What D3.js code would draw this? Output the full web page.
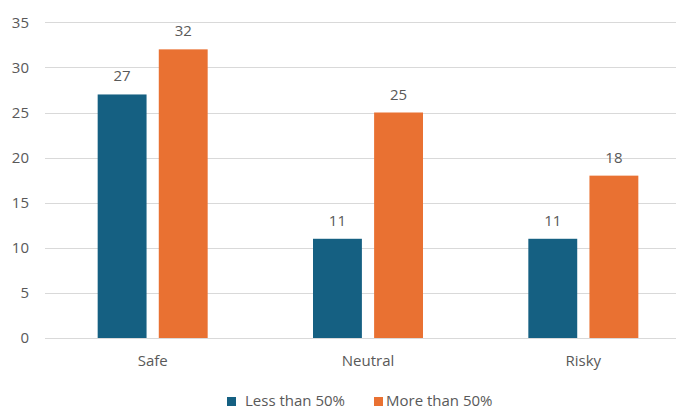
<!DOCTYPE html>
<html>
<head>
<meta charset="utf-8">
<script src="https://cdn.jsdelivr.net/npm/d3@7"></script>
<style>
  html, body { margin: 0; padding: 0; background: #fff; }
  svg { display: block; font-family: "Open Sans", "Noto Sans", sans-serif; }
</style>
</head>
<body>
<svg id="chart" width="676" height="408"></svg>
<script>
// Chart data
const categories = ["Safe", "Neutral", "Risky"];
const seriesNames = ["Less than 50%", "More than 50%"];
const lessThan50 = [27, 11, 11];
const moreThan50 = [32, 25, 18];
const yTicks = [0, 5, 10, 15, 20, 25, 30, 35];
const seriesColors = ["#156082", "#E97132"];

const seriesValues = [lessThan50, moreThan50];
const rows = categories.map((c, i) => ({
  category: c,
  values: seriesNames.map((s, j) => ({ series: s, idx: j, value: seriesValues[j][i] }))
}));

const svg = d3.select("#chart");
const textColor = "#595959";
const fontSize = 15;

const x0 = d3.scaleBand().domain(categories).range([45, 691]).paddingInner(0).paddingOuter(0);
const groupWidth = 110;
const x1 = d3.scaleBand().domain(seriesNames).range([0, groupWidth]).paddingInner(0.2).paddingOuter(0);
const y = d3.scaleLinear().domain([0, 35]).range([338, 22.3]);

// Gridlines
svg.append("g")
  .selectAll("line")
  .data(yTicks)
  .join("line")
  .attr("x1", 45).attr("x2", 676)
  .attr("y1", d => Math.round(y(d)) + 0.5)
  .attr("y2", d => Math.round(y(d)) + 0.5)
  .attr("stroke", "#d9d9d9")
  .attr("stroke-width", 1);

// Y axis labels
const yAxis = d3.axisLeft(y).tickValues(yTicks).tickSize(0).tickPadding(0);
const yg = svg.append("g").attr("transform", "translate(29,0)").call(yAxis);
yg.select(".domain").remove();
yg.selectAll("text")
  .attr("fill", textColor)
  .attr("font-size", fontSize)
  .attr("font-family", "Open Sans, Noto Sans, sans-serif");

// Category labels
const xAxis = d3.axisBottom(x0).tickSize(0).tickPadding(0);
const xg = svg.append("g").attr("transform", "translate(0,355)").call(xAxis);
xg.select(".domain").remove();
xg.selectAll("text")
  .attr("fill", textColor)
  .attr("font-size", fontSize)
  .attr("font-family", "Open Sans, Noto Sans, sans-serif");

// Bars
const groups = svg.append("g")
  .selectAll("g")
  .data(rows)
  .join("g")
  .attr("transform", d => `translate(${x0(d.category) + (x0.bandwidth() - groupWidth) / 2},0)`);

groups.selectAll("rect")
  .data(d => d.values)
  .join("rect")
  .attr("x", d => x1(d.series))
  .attr("width", x1.bandwidth())
  .attr("y", d => y(d.value))
  .attr("height", d => y(0) - y(d.value))
  .attr("fill", d => seriesColors[d.idx]);

// Value labels
groups.selectAll("text.value")
  .data(d => d.values)
  .join("text")
  .attr("class", "value")
  .attr("x", d => x1(d.series) + x1.bandwidth() / 2)
  .attr("y", d => y(d.value) - 13)
  .attr("text-anchor", "middle")
  .attr("fill", textColor)
  .attr("font-size", fontSize)
  .text(d => d.value);

// Legend
const legendItems = [
  { name: seriesNames[0], color: seriesColors[0], x: 227, tx: 245 },
  { name: seriesNames[1], color: seriesColors[1], x: 374, tx: 386 }
];
const legend = svg.append("g");
const li = legend.selectAll("g").data(legendItems).join("g");
li.append("rect").attr("x", d => d.x).attr("y", 397).attr("width", 9).attr("height", 9)
  .attr("fill", d => d.color);
li.append("text").attr("x", d => d.tx).attr("y", 405.5)
  .attr("fill", textColor).attr("font-size", fontSize)
  .text(d => d.name);
</script>
</body>
</html>
